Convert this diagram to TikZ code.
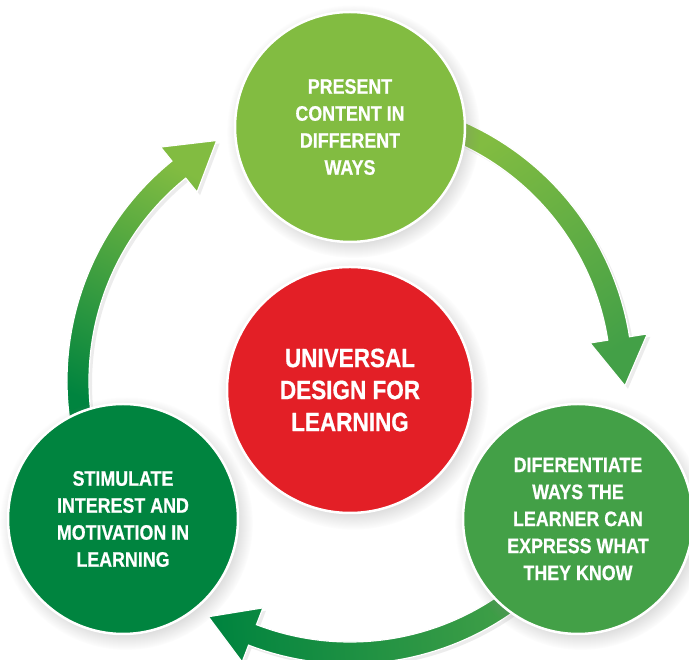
\documentclass[tikz,border=0pt]{standalone}
\usepackage{fontspec}
\setmainfont{Liberation Sans}[FakeStretch=0.85, BoldFeatures={FakeBold=0.6}]
\usepackage{xcolor}
\usetikzlibrary{shapes,shadows,backgrounds,calc}

\definecolor{lightleaf}{RGB}{130,188,65}
\definecolor{midleaf}{RGB}{67,160,71}
\definecolor{deepleaf}{RGB}{0,132,63}
\definecolor{udlred}{RGB}{227,31,38}

\begin{document}
\begin{tikzpicture}[x=1pt, y=1pt]
    \tikzstyle{stage} = [circle, draw=white, line width=2.5pt, minimum size=230pt, inner sep=0pt, text=white, align=center, font=\bfseries\fontsize{21}{27}\selectfont, circular drop shadow={shadow xshift=3pt, shadow yshift=-4pt, opacity=0.3}]
    \tikzstyle{core} = [stage, minimum size=246pt, font=\bfseries\fontsize{26.5}{32}\selectfont]
    \tikzstyle{flow} = [draw=white, line width=1.2pt, drop shadow={shadow xshift=3pt, shadow yshift=-3pt, opacity=0.15}]

    \useasboundingbox (0,0) rectangle (689,660);
    \clip (0,0) rectangle (689,660);

    \node [core, fill=udlred] (udl) at (350,270) {UNIVERSAL\\DESIGN FOR\\LEARNING};
    \node [stage, fill=lightleaf] (present) at (350,533) {PRESENT\\CONTENT IN\\DIFFERENT\\WAYS};
    \node [stage, fill=midleaf] (express) at (578,141) {DIFERENTIATE\\WAYS THE\\LEARNER CAN\\EXPRESS WHAT\\THEY KNOW};
    \node [stage, fill=deepleaf] (motivate) at (123,141) {STIMULATE\\INTEREST AND\\MOTIVATION IN\\LEARNING};
    \coordinate (hub) at ($(udl.center)+(0,9)$);

    \begin{scope}[on background layer]
        \fill [white] (0,0) rectangle (689,660);
    \end{scope}
    \begin{scope}[on background layer, shift={(hub)}]
        \shadedraw [flow, top color=lightleaf, bottom color=midleaf, shading angle=35] (70:283) arc [start angle=70, end angle=9, radius=283] -- (9:301) -- (-1:275) -- (9:243) -- (9:261) arc [start angle=9, end angle=70, radius=261] -- cycle;
        \shadedraw [flow, top color=midleaf, bottom color=deepleaf, shading angle=275] (310:283) arc [start angle=310, end angle=249, radius=283] -- (249:301) -- (239:275) -- (249:243) -- (249:261) arc [start angle=249, end angle=310, radius=261] -- cycle;
        \shadedraw [flow, top color=deepleaf, bottom color=lightleaf, shading angle=155] (190:283) arc [start angle=190, end angle=129, radius=283] -- (129:301) -- (119:275) -- (129:243) -- (129:261) arc [start angle=129, end angle=190, radius=261] -- cycle;
    \end{scope}
\end{tikzpicture}
\end{document}
